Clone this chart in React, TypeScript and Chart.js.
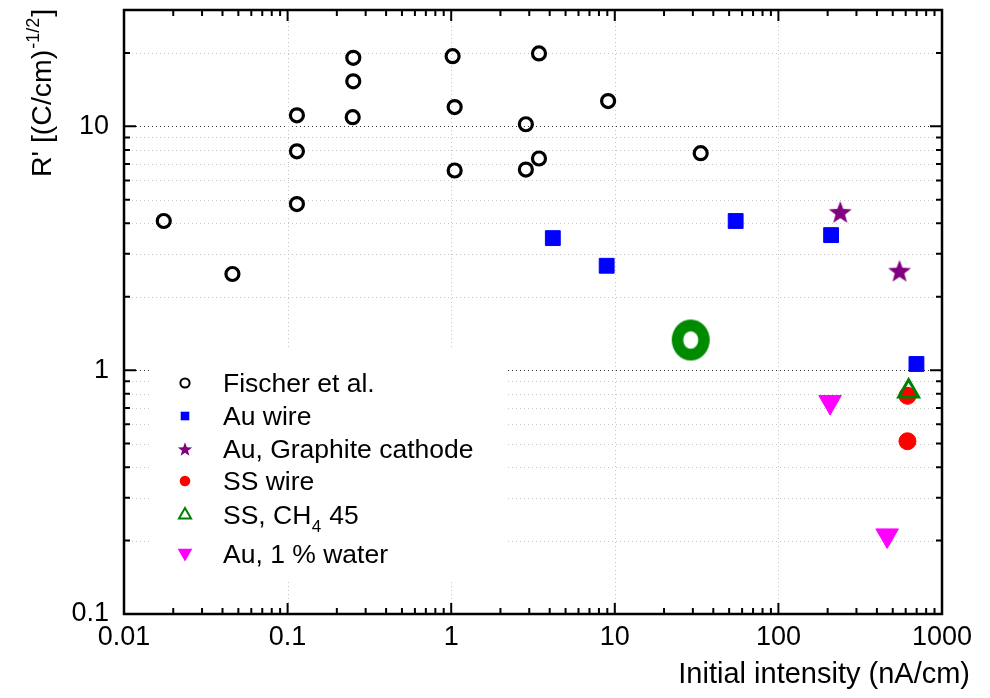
import React, { useEffect, useRef } from 'react';
import { Chart, registerables } from 'chart.js';

Chart.register(...registerables);

const FONT = '"Liberation Sans", Arial, Helvetica, sans-serif';

// ---- data ----
const fischerX = [0.0175, 0.046, 0.114, 0.114, 0.114, 0.252, 0.252, 0.25, 1.02, 1.05, 1.05, 3.44, 2.86, 3.44, 2.86, 9.1, 33.5];
const fischerY = [4.09, 2.48, 11.1, 7.9, 4.8, 19.1, 15.3, 10.9, 19.4, 12.0, 6.59, 19.9, 10.2, 7.38, 6.65, 12.7, 7.76];
const auWireX = [4.18, 8.92, 54.8, 210, 698];
const auWireY = [3.48, 2.68, 4.09, 3.58, 1.06];
const graphiteX = [239, 550];
const graphiteY = [4.46, 2.56];
const ssWireX = [615, 615];
const ssWireY = [0.785, 0.511];
const ch4X = [625];
const ch4Y = [0.82];
const waterX = [207, 462];
const waterY = [0.74, 0.21];
const ringX = [29.1];
const ringY = [1.33];

const xTickLabels = ['0.01', '0.1', '1', '10', '100', '1000'];
const yTickLabels = ['0.1', '1', '10'];
const legendLabels = ['Fischer et al.', 'Au wire', 'Au, Graphite cathode', 'SS wire', 'SS, CH4 45', 'Au, 1 % water'];

const X_MIN = 0.01, X_MAX = 1000, Y_MIN = 0.1, Y_MAX = 30;

function pts(xs: number[], ys: number[]) {
  return xs.map((x, i) => ({ x, y: ys[i] }));
}

function decadeLabel(v: number): string {
  const e = Math.log10(v);
  const n = Math.round(e);
  if (Math.abs(e - n) > 1e-6) return '';
  return n >= 0 ? String(Math.pow(10, n)) : Math.pow(10, n).toFixed(-n);
}

function starPath(ctx: CanvasRenderingContext2D, cx: number, cy: number, ro: number, ri: number) {
  ctx.beginPath();
  for (let i = 0; i < 10; i++) {
    const r = i % 2 === 0 ? ro : ri;
    const a = -Math.PI / 2 + (i * Math.PI) / 5;
    const px = cx + r * Math.cos(a);
    const py = cy + r * Math.sin(a);
    if (i === 0) ctx.moveTo(px, py); else ctx.lineTo(px, py);
  }
  ctx.closePath();
}

function makeStar(ro: number, color: string) {
  const s = Math.ceil(ro * 2 + 4);
  const c = document.createElement('canvas');
  c.width = s; c.height = s;
  const g = c.getContext('2d')!;
  g.fillStyle = color;
  starPath(g, s / 2, s / 2 + ro * 0.1, ro, ro * 0.42);
  g.fill();
  return c;
}

function makeRing(rxo: number, ryo: number, rxi: number, ryi: number, color: string) {
  const w = Math.ceil(rxo * 2 + 4), h = Math.ceil(ryo * 2 + 4);
  const c = document.createElement('canvas');
  c.width = w; c.height = h;
  const g = c.getContext('2d')!;
  g.fillStyle = color;
  g.beginPath();
  g.ellipse(w / 2, h / 2, rxo, ryo, 0, 0, Math.PI * 2);
  g.ellipse(w / 2, h / 2, rxi, ryi, 0, 0, Math.PI * 2);
  g.fill('evenodd');
  return c;
}

function triPath(ctx: CanvasRenderingContext2D, cx: number, cy: number, r: number, down: boolean) {
  const s = down ? -1 : 1;
  ctx.beginPath();
  ctx.moveTo(cx, cy - s * r);
  ctx.lineTo(cx + r * Math.sin(Math.PI / 3), cy + s * r / 2);
  ctx.lineTo(cx - r * Math.sin(Math.PI / 3), cy + s * r / 2);
  ctx.closePath();
}

const legendPlugin = {
  id: 'customFrame',
  beforeDatasetsDraw(chart: any) {
    const { ctx, chartArea: a, scales } = chart;
    const x = scales.x, y = scales.y;
    ctx.save();
    ctx.lineWidth = 1;
    for (let d = -1; d <= 1; d++) {
      for (let k = 1; k <= 9; k++) {
        const v = k * Math.pow(10, d);
        if (v <= Y_MIN || v >= Y_MAX) continue;
        const py = Math.round(y.getPixelForValue(v)) + 0.5;
        ctx.beginPath();
        ctx.strokeStyle = k === 1 ? '#333' : '#c4c4c4';
        ctx.setLineDash([1, 3]);
        ctx.moveTo(a.left, py); ctx.lineTo(a.right, py); ctx.stroke();
      }
    }
    ctx.strokeStyle = '#c4c4c4';
    ctx.setLineDash([1, 3]);
    for (let d = -1; d <= 2; d++) {
      const px = Math.round(x.getPixelForValue(Math.pow(10, d))) + 0.5;
      ctx.beginPath(); ctx.moveTo(px, a.top); ctx.lineTo(px, a.bottom); ctx.stroke();
    }
    ctx.setLineDash([]);
    ctx.fillStyle = '#fff';
    ctx.fillRect(a.left + 28, a.top + 338, 356, 234);
    ctx.restore();
  },
  afterDatasetsDraw(chart: any) {
    const { ctx, chartArea: a, scales } = chart;
    const x = scales.x, y = scales.y;
    ctx.save();
    ctx.strokeStyle = '#000';
    ctx.lineWidth = 2;
    for (let d = -2; d <= 2; d++) {
      for (let k = 1; k <= 9; k++) {
        const v = k * Math.pow(10, d);
        if (v < X_MIN || v > X_MAX) continue;
        const px = x.getPixelForValue(v);
        const len = k === 1 ? 11 : 6;
        ctx.beginPath();
        ctx.moveTo(px, a.bottom); ctx.lineTo(px, a.bottom - len);
        ctx.moveTo(px, a.top); ctx.lineTo(px, a.top + len);
        ctx.stroke();
      }
    }
    for (let d = -1; d <= 1; d++) {
      for (let k = 1; k <= 9; k++) {
        const v = k * Math.pow(10, d);
        if (v < Y_MIN || v > Y_MAX) continue;
        const py = y.getPixelForValue(v);
        const len = k === 1 ? 12 : 6;
        ctx.beginPath();
        ctx.moveTo(a.left, py); ctx.lineTo(a.left + len, py);
        ctx.moveTo(a.right, py); ctx.lineTo(a.right - len, py);
        ctx.stroke();
      }
    }
    ctx.lineWidth = 2.5;
    ctx.strokeRect(a.left, a.top, a.right - a.left, a.bottom - a.top);

    // legend
    const mx = a.left + 61;
    const tx = a.left + 99;
    const baselines = [392, 425, 458, 490, 524, 563];
    const centers = [383, 416, 449, 481, 514, 554];
    ctx.fillStyle = '#000';
    ctx.textBaseline = 'alphabetic';
    ctx.textAlign = 'left';
    legendLabels.forEach((lab, i) => {
      const cy = centers[i] - 10 + a.top;
      ctx.save();
      if (i === 0) {
        ctx.beginPath(); ctx.arc(mx, cy, 4.6, 0, Math.PI * 2);
        ctx.lineWidth = 2; ctx.strokeStyle = '#000'; ctx.stroke();
      } else if (i === 1) {
        ctx.fillStyle = '#0000ff'; ctx.fillRect(mx - 4.3, cy - 4.3, 8.6, 8.6);
      } else if (i === 2) {
        ctx.fillStyle = '#800080'; starPath(ctx, mx, cy + 0.7, 7.5, 3.1); ctx.fill();
      } else if (i === 3) {
        ctx.fillStyle = '#ff0000'; ctx.beginPath(); ctx.arc(mx, cy, 5.3, 0, Math.PI * 2); ctx.fill();
      } else if (i === 4) {
        ctx.strokeStyle = '#008000'; ctx.lineWidth = 2; triPath(ctx, mx, cy + 1, 7, false); ctx.stroke();
      } else if (i === 5) {
        ctx.fillStyle = '#ff00ff'; triPath(ctx, mx, cy - 1, 8.5, true); ctx.fill();
      }
      ctx.restore();
      const by = baselines[i] - 10 + a.top;
      ctx.font = `26.5px ${FONT}`;
      if (lab.indexOf('CH4') >= 0) {
        const parts = lab.split('CH4');
        const p1 = parts[0] + 'CH';
        ctx.fillText(p1, tx, by);
        let w = ctx.measureText(p1).width;
        ctx.font = `17px ${FONT}`;
        ctx.fillText('4', tx + w + 0.5, by + 8);
        w += ctx.measureText('4').width + 1;
        ctx.font = `26.5px ${FONT}`;
        ctx.fillText(parts[1], tx + w, by);
      } else {
        ctx.fillText(lab, tx, by);
      }
    });

    ctx.font = `29px ${FONT}`;
    ctx.textAlign = 'right';
    ctx.fillText('Initial intensity (nA/cm)', a.right + 28, 683);

    ctx.save();
    ctx.translate(51, 177);
    ctx.rotate(-Math.PI / 2);
    ctx.textAlign = 'left';
    ctx.font = `28.5px ${FONT}`;
    const main = "R' [(C/cm)";
    ctx.fillText(main, 0, 0);
    let w = ctx.measureText(main).width;
    ctx.font = `18px ${FONT}`;
    ctx.fillText('-1/2', w + 1, -12);
    w += ctx.measureText('-1/2').width + 2;
    ctx.font = `28.5px ${FONT}`;
    ctx.fillText(']', w, 0);
    ctx.restore();

    ctx.restore();
  },
};

export default function App() {
  const ref = useRef<HTMLCanvasElement>(null);
  useEffect(() => {
    document.body.style.margin = '0';
    const canvas = ref.current!;
    const star = makeStar(12, '#800080');
    const ring = makeRing(19, 20.5, 7.5, 8.8, '#008a00');
    const chart = new Chart(canvas, {
      type: 'scatter',
      data: {
        datasets: [
          { label: legendLabels[0], data: pts(fischerX, fischerY), pointStyle: 'circle', pointRadius: 6.5, pointBorderWidth: 3.2, borderColor: '#000', backgroundColor: 'rgba(0,0,0,0)', order: 1 },
          { label: legendLabels[1], data: pts(auWireX, auWireY), pointStyle: 'rect', pointRadius: 10.5, pointBorderWidth: 1, borderColor: '#0000ff', backgroundColor: '#0000ff', order: 1 },
          { label: legendLabels[2], data: pts(graphiteX, graphiteY), pointStyle: star as any, pointRadius: 11, borderColor: '#800080', backgroundColor: '#800080', order: 1 },
          { label: legendLabels[3], data: pts(ssWireX, ssWireY), pointStyle: 'circle', pointRadius: 8.5, pointBorderWidth: 1, borderColor: '#ff0000', backgroundColor: '#ff0000', order: 1 },
          { label: legendLabels[4], data: pts(ch4X, ch4Y), pointStyle: 'triangle', pointRadius: 11.5, pointBorderWidth: 3, borderColor: '#008000', backgroundColor: 'rgba(0,0,0,0)', order: 0 },
          { label: legendLabels[5], data: pts(waterX, waterY), pointStyle: 'triangle', pointRotation: 180, pointRadius: 13, pointBorderWidth: 1, borderColor: '#ff00ff', backgroundColor: '#ff00ff', order: 1 },
          { label: 'ring', data: pts(ringX, ringY), pointStyle: ring as any, pointRadius: 20, borderColor: '#008a00', backgroundColor: '#008a00', order: 1 },
        ],
      },
      options: {
        animation: false,
        responsive: false,
        devicePixelRatio: 1,
        layout: { autoPadding: false, padding: { top: 10, right: 48, left: 0, bottom: 0 } },
        plugins: { legend: { display: false }, tooltip: { enabled: false } },
        scales: {
          x: {
            type: 'logarithmic',
            min: X_MIN,
            max: X_MAX,
            grid: { display: false, drawTicks: false },
            border: { display: false },
            ticks: {
              autoSkip: false,
              maxRotation: 0,
              minRotation: 0,
              padding: 7,
              color: '#000',
              font: { family: FONT, size: 27 },
              callback: (v: any) => { const s = decadeLabel(Number(v)); return xTickLabels.includes(s) ? s : ''; },
            },
            afterFit: (s: any) => { s.height = 84; s.paddingLeft = 0; s.paddingRight = 0; s.paddingTop = 0; s.paddingBottom = 0; },
          },
          y: {
            type: 'logarithmic',
            min: Y_MIN,
            max: Y_MAX,
            grid: { display: false, drawTicks: false },
            border: { display: false },
            ticks: {
              autoSkip: false,
              padding: 15,
              color: '#000',
              font: { family: FONT, size: 27 },
              callback: (v: any) => { const s = decadeLabel(Number(v)); return yTickLabels.includes(s) ? s : ''; },
            },
            afterFit: (s: any) => { s.width = 124; s.paddingTop = 0; s.paddingBottom = 0; s.paddingLeft = 0; s.paddingRight = 0; },
          },
        },
      },
      plugins: [legendPlugin],
    });
    return () => chart.destroy();
  }, []);
  return (
    <div style={{ width: 990, height: 698 }}>
      <canvas ref={ref} width={990} height={698} style={{ display: 'block' }} />
    </div>
  );
}
